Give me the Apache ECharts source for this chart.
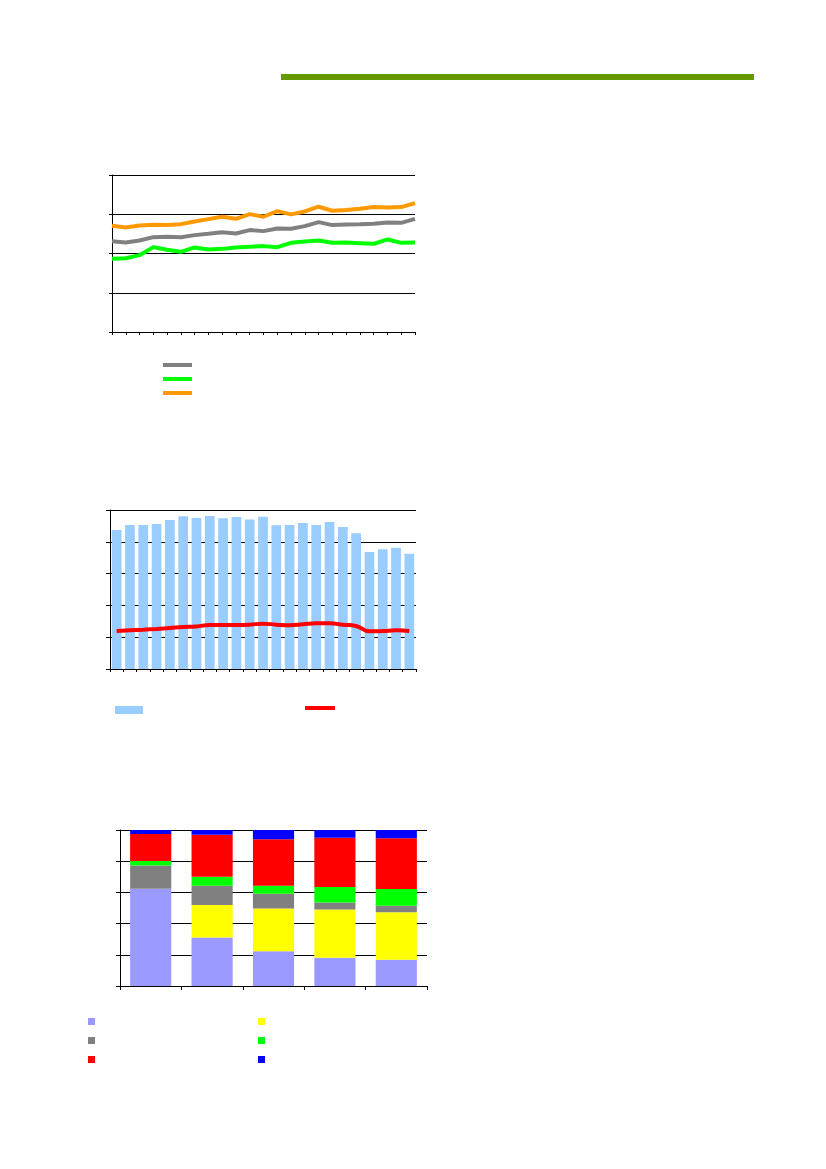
<!DOCTYPE html>
<html>
<head>
<meta charset="utf-8">
<script src="https://cdn.jsdelivr.net/npm/echarts@6/dist/echarts.min.js"></script>
<style>
html,body{margin:0;padding:0;background:#fff;}
#c{width:826px;height:1169px;}
</style>
</head>
<body>
<div id="c"></div>
<script>
// ---- Chart 1: three lines ----
const lineCats = ['1','2','3','4','5','6','7','8','9','10','11','12','13','14','15','16','17','18','19','20','21','22','23'];
const grayLine = [115.7,114.0,116.6,120.8,121.3,120.8,123.4,125.1,127.2,125.5,129.8,128.5,131.9,131.5,134.9,140.0,136.2,137.0,137.4,137.9,139.6,139.1,144.2];
const greenLine = [93.2,94.0,97.9,108.1,104.7,102.1,107.7,105.1,105.9,107.7,108.5,109.4,108.1,113.6,115.3,116.6,113.6,114.0,113.2,112.3,117.9,113.6,114.0];
const orangeLine = [135.3,133.2,135.7,136.6,136.2,137.4,140.8,143.8,146.8,144.2,150.2,146.8,154.0,149.8,153.6,159.6,154.5,155.3,157.0,159.1,158.7,159.1,164.2];

// ---- Chart 2: bars + red line ----
const barCats = ['1','2','3','4','5','6','7','8','9','10','11','12','13','14','15','16','17','18','19','20','21','22','23'];
const barValues = [87.4,90.6,90.6,91.2,93.7,96.0,95.0,96.2,94.8,95.6,94.1,95.8,90.4,90.6,91.8,90.6,92.5,89.3,85.3,73.6,75.3,76.3,72.5];
const redLine = [23.9,24.3,24.7,25.2,25.8,26.4,26.8,27.7,27.7,27.7,27.9,28.5,27.9,27.5,28.1,28.7,28.7,27.9,27.0,23.7,23.9,24.3,23.9];

// ---- Chart 3: stacked 100% bars ----
const stackCats = ['A','B','C','D','E'];
const sPurple = [62.3,31.1,22.2,18.1,16.8];
const sYellow = [0,20.9,27.5,30.9,30.5];
const sGray   = [14.9,12.2,9.4,4.5,4.1];
const sGreen  = [3.0,5.8,5.1,10.0,10.7];
const sRed    = [17.3,27.0,29.9,31.6,32.6];
const sBlue   = [2.5,3.0,5.9,4.9,5.3];

const chart = echarts.init(document.getElementById('c'), null, {renderer:'canvas'});

function yAx(gi, max, interval, tickLen){
  return {type:'value', gridIndex:gi, min:0, max:max, interval:interval,
    axisLine:{show:true, lineStyle:{color:'#000',width:1}},
    axisTick:{show:true, length:tickLen, lineStyle:{color:'#000'}},
    axisLabel:{show:false},
    splitLine:{show:true, lineStyle:{color:'#000',width:1}}};
}
function xAx(gi, data, boundary, tickLen){
  return {type:'category', gridIndex:gi, data:data, boundaryGap:boundary,
    axisLine:{show:true, lineStyle:{color:'#000',width:1}},
    axisTick:{show:true, length:tickLen, alignWithLabel:false, interval:0, lineStyle:{color:'#000'}},
    axisLabel:{show:false}, splitLine:{show:false}};
}
const blank = () => '';

chart.setOption({
  animation:false,
  backgroundColor:'#fff',
  graphic:[{type:'rect', shape:{x:281, y:74, width:473, height:6}, style:{fill:'#669900'}}],
  grid:[
    {left:112, top:175, width:303, height:157},
    {left:110, top:510, width:306, height:159},
    {left:120, top:830, width:307, height:156}
  ],
  xAxis:[xAx(0, lineCats, false, 3), xAx(1, barCats, true, 3), xAx(2, stackCats, true, 4)],
  yAxis:[yAx(0, 200, 50, 3), yAx(1, 100, 20, 4), yAx(2, 100, 20, 4)],
  legend:[
    {orient:'vertical', left:163, top:363, padding:0, itemGap:10, itemWidth:29, itemHeight:4, icon:'rect',
      formatter:blank, data:['Gray','Green','Orange'], textStyle:{fontSize:1}},
    {left:115, top:706, padding:0, itemWidth:28, itemHeight:8, icon:'rect', formatter:blank, data:['Bars'], textStyle:{fontSize:1}},
    {left:305, top:706, padding:0, itemWidth:30, itemHeight:4, icon:'rect', formatter:blank, data:['Red'], textStyle:{fontSize:1}},
    {orient:'vertical', left:88, top:1018, padding:0, itemGap:12, itemWidth:7, itemHeight:7, icon:'rect', formatter:blank,
      data:['S1','S3','S5'], textStyle:{fontSize:1}},
    {orient:'vertical', left:258, top:1018, padding:0, itemGap:12, itemWidth:7, itemHeight:7, icon:'rect', formatter:blank,
      data:['S2','S4','S6'], textStyle:{fontSize:1}}
  ],
  series:[
    {name:'Gray', type:'line', xAxisIndex:0, yAxisIndex:0, data:grayLine, symbol:'none', lineStyle:{color:'#808080', width:4}, itemStyle:{color:'#808080'}},
    {name:'Green', type:'line', xAxisIndex:0, yAxisIndex:0, data:greenLine, symbol:'none', lineStyle:{color:'#00ff00', width:4}, itemStyle:{color:'#00ff00'}},
    {name:'Orange', type:'line', xAxisIndex:0, yAxisIndex:0, data:orangeLine, symbol:'none', lineStyle:{color:'#ff9900', width:4}, itemStyle:{color:'#ff9900'}},

    {name:'Bars', type:'bar', xAxisIndex:1, yAxisIndex:1, data:barValues, barWidth:'73%', itemStyle:{color:'#99ccff'}},
    {name:'Red', type:'line', xAxisIndex:1, yAxisIndex:1, data:redLine, symbol:'none', smooth:true, lineStyle:{color:'#ff0000', width:4}, itemStyle:{color:'#ff0000'}},

    {name:'S1', type:'bar', stack:'s', xAxisIndex:2, yAxisIndex:2, data:sPurple, barWidth:'67%', itemStyle:{color:'#9999ff'}},
    {name:'S2', type:'bar', stack:'s', xAxisIndex:2, yAxisIndex:2, data:sYellow, barWidth:'67%', itemStyle:{color:'#ffff00'}},
    {name:'S3', type:'bar', stack:'s', xAxisIndex:2, yAxisIndex:2, data:sGray, barWidth:'67%', itemStyle:{color:'#808080'}},
    {name:'S4', type:'bar', stack:'s', xAxisIndex:2, yAxisIndex:2, data:sGreen, barWidth:'67%', itemStyle:{color:'#00ff00'}},
    {name:'S5', type:'bar', stack:'s', xAxisIndex:2, yAxisIndex:2, data:sRed, barWidth:'67%', itemStyle:{color:'#ff0000'}},
    {name:'S6', type:'bar', stack:'s', xAxisIndex:2, yAxisIndex:2, data:sBlue, barWidth:'67%', itemStyle:{color:'#0000ff'}}
  ]
});
</script>
</body>
</html>
